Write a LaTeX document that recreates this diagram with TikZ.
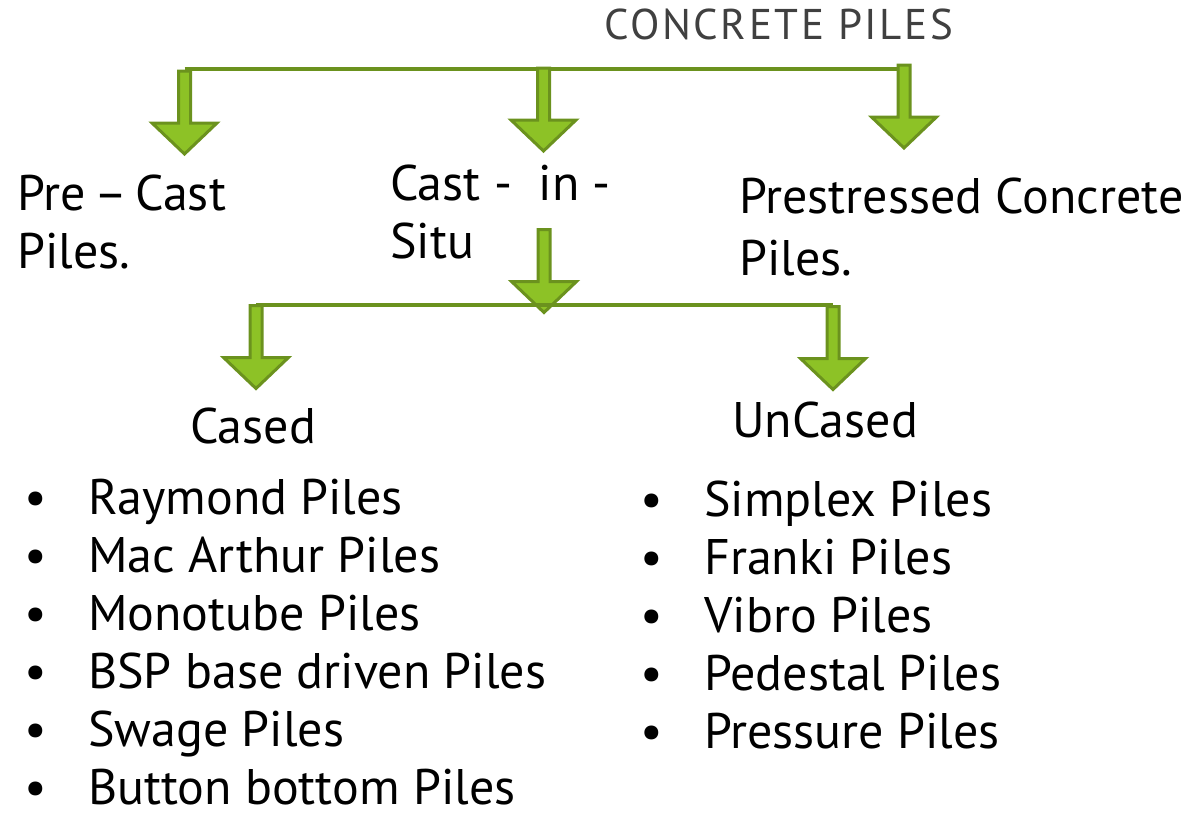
\documentclass[tikz,border=0pt]{standalone}
\usepackage{fontspec}
\setmainfont{PT Sans}
\usepackage{tikz}

\definecolor{leafgreen}{RGB}{141,194,38}
\definecolor{stemgreen}{RGB}{107,146,30}
\definecolor{titlegray}{RGB}{64,64,64}

\begin{document}
\begin{tikzpicture}
[
    x = 1pt, y = -1pt,
    piletext/.style = {anchor = base west, inner sep = 0pt, align = left,
        font = \fontsize{50}{58}\selectfont},
    bus/.style = {draw = stemgreen, line width = 4pt},
    pics/blockdown/.style = {code = {
        \draw[draw = stemgreen, fill = leafgreen, line width = 3pt]
            (-6,0) -- (6,0) -- (6,52) -- (32.5,52) -- (0,83)
            -- (-32.5,52) -- (-6,52) -- cycle;
    }},
]
\useasboundingbox (0,0) rectangle (1197,812);

% texts (base anchor = last line)
\node[piletext, font = \fontsize{43}{46}\selectfont\addfontfeature{LetterSpace=6},
    text = titlegray] (title) at (604,39) {CONCRETE PILES};

\node[piletext] (precast) at (17,268) {Pre\,–\,Cast\\Piles.};
\node[piletext] (insitu) at (390,258) {Cast -\ \ in -\\Situ};
\node[piletext] (prestressed) at (739,275) {Prestressed Concrete\\[4pt]Piles.};
\node[piletext] (cased) at (190,443) {Cased};
\node[piletext] (uncased) at (732,437) {UnCased};

\node[piletext] (casedlist) at (24,804) {%
    \makebox[64pt][l]{•}Raymond Piles\\
    \makebox[64pt][l]{•}Mac Arthur Piles\\
    \makebox[64pt][l]{•}Monotube Piles\\
    \makebox[64pt][l]{•}BSP base driven Piles\\
    \makebox[64pt][l]{•}Swage Piles\\
    \makebox[64pt][l]{•}Button bottom Piles};
\node[piletext] (uncasedlist) at (640,748) {%
    \makebox[64pt][l]{•}Simplex Piles\\
    \makebox[64pt][l]{•}Franki Piles\\
    \makebox[64pt][l]{•}Vibro Piles\\
    \makebox[64pt][l]{•}Pedestal Piles\\
    \makebox[64pt][l]{•}Pressure Piles};

% top level
\coordinate (t1) at (184.5,69);
\coordinate (t3) at (904,69);
\draw[bus] (t1) -- (t3);
\pic at (184.5,71) {blockdown};
\pic at (543.5,68) {blockdown};
\pic at (904,65) {blockdown};

% cast in situ
\pic at (544,229.5) {blockdown};
\coordinate (c1) at (256,304.5);
\coordinate (c2) at (833,304.5);
\draw[bus] (c1) -- (c2);
\pic at (256,305.5) {blockdown};
\pic at (833,306.5) {blockdown};
\end{tikzpicture}
\end{document}
